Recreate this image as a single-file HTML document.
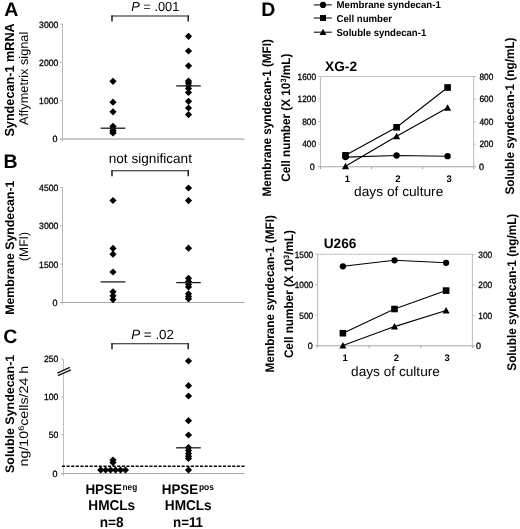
<!DOCTYPE html>
<html><head><meta charset="utf-8"><title>Figure</title>
<style>
html,body{margin:0;padding:0;background:#fff;}
svg{display:block;font-family:"Liberation Sans",sans-serif;text-rendering:geometricPrecision;will-change:transform;}
</style></head><body>
<svg width="520" height="529" viewBox="0 0 520 529">
<rect width="520" height="529" fill="#fff"/>
<path d="M62.5 24V141.6" fill="none" stroke="#bababa" stroke-width="1"/>
<path d="M60.0 139.1H244.5" fill="none" stroke="#c2c2c2" stroke-width="1.6"/>
<path d="M60.0 24.1H62.5" stroke="#bababa" stroke-width="1"/>
<path d="M60.0 62.4H62.5" stroke="#bababa" stroke-width="1"/>
<path d="M60.0 100.7H62.5" stroke="#bababa" stroke-width="1"/>
<text x="58.3" y="27.5" font-size="9.2" font-weight="normal" text-anchor="end" fill="#000" textLength="19.2" lengthAdjust="spacingAndGlyphs" style="stroke:#000;stroke-width:0.3">3000</text>
<text x="58.3" y="65.8" font-size="9.2" font-weight="normal" text-anchor="end" fill="#000" textLength="19.2" lengthAdjust="spacingAndGlyphs" style="stroke:#000;stroke-width:0.3">2000</text>
<text x="58.3" y="104.10000000000001" font-size="9.2" font-weight="normal" text-anchor="end" fill="#000" textLength="19.2" lengthAdjust="spacingAndGlyphs" style="stroke:#000;stroke-width:0.3">1000</text>
<text x="57.4" y="142.4" font-size="9.2" font-weight="normal" text-anchor="end" fill="#000" textLength="5.0" lengthAdjust="spacingAndGlyphs" style="stroke:#000;stroke-width:0.3">0</text>
<path d="M113 77.7L116.6 81.3L113 84.89999999999999L109.4 81.3Z" fill="#000"/>
<path d="M113 98.60000000000001L116.6 102.2L113 105.8L109.4 102.2Z" fill="#000"/>
<path d="M113 108.2L116.6 111.8L113 115.39999999999999L109.4 111.8Z" fill="#000"/>
<path d="M113 122.7L116.6 126.3L113 129.9L109.4 126.3Z" fill="#000"/>
<path d="M113 124.9L116.6 128.5L113 132.1L109.4 128.5Z" fill="#000"/>
<path d="M113 126.9L116.6 130.5L113 134.1L109.4 130.5Z" fill="#000"/>
<path d="M113 128.4L116.6 132L113 135.6L109.4 132Z" fill="#000"/>
<path d="M113 129.4L116.6 133L113 136.6L109.4 133Z" fill="#000"/>
<path d="M100.7 128.2H125.3" stroke="#1c1c1c" stroke-width="1.3"/>
<path d="M188.5 32.699999999999996L192.1 36.3L188.5 39.9L184.9 36.3Z" fill="#000"/>
<path d="M188.5 47.4L192.1 51L188.5 54.6L184.9 51Z" fill="#000"/>
<path d="M188.5 62.199999999999996L192.1 65.8L188.5 69.39999999999999L184.9 65.8Z" fill="#000"/>
<path d="M188.5 77.4L192.1 81L188.5 84.6L184.9 81Z" fill="#000"/>
<path d="M188.5 79.4L192.1 83L188.5 86.6L184.9 83Z" fill="#000"/>
<path d="M188.5 81.9L192.1 85.5L188.5 89.1L184.9 85.5Z" fill="#000"/>
<path d="M188.5 84.9L192.1 88.5L188.5 92.1L184.9 88.5Z" fill="#000"/>
<path d="M188.5 88.9L192.1 92.5L188.5 96.1L184.9 92.5Z" fill="#000"/>
<path d="M188.5 97.7L192.1 101.3L188.5 104.89999999999999L184.9 101.3Z" fill="#000"/>
<path d="M188.5 104.4L192.1 108L188.5 111.6L184.9 108Z" fill="#000"/>
<path d="M188.5 111.0L192.1 114.6L188.5 118.19999999999999L184.9 114.6Z" fill="#000"/>
<path d="M176.2 85.9H200.8" stroke="#1c1c1c" stroke-width="1.3"/>
<path d="M111.3 16.0H188.9" fill="none" stroke="#1a1a1a" stroke-width="1.15"/>
<path d="M112 15.5V21.6M188.2 15.5V21.6" fill="none" stroke="#1a1a1a" stroke-width="1.45"/>
<text x="131.2" y="11.3" font-size="13" textLength="48.2" lengthAdjust="spacingAndGlyphs"><tspan font-style="italic">P</tspan> = .001</text>
<text x="4.2" y="15.8" font-size="19.5" font-weight="bold" text-anchor="start" fill="#000">A</text>
<text x="14.0" y="136.6" font-size="13.2" font-weight="bold" text-anchor="start" fill="#000" textLength="113.3" lengthAdjust="spacingAndGlyphs" transform="rotate(-90 14.0 136.6)">Syndecan-1 mRNA</text>
<text x="28.4" y="125" font-size="12.5" font-weight="normal" text-anchor="start" fill="#000" textLength="93.3" lengthAdjust="spacingAndGlyphs" transform="rotate(-90 28.4 125)">Affymetrix signal</text>
<path d="M62.5 187.5V304.5" fill="none" stroke="#bababa" stroke-width="1"/>
<path d="M60.0 302.5H244.5" fill="none" stroke="#a8a8a8" stroke-width="1.0"/>
<path d="M60.0 187.5H62.5" stroke="#bababa" stroke-width="1"/>
<path d="M60.0 225.8H62.5" stroke="#bababa" stroke-width="1"/>
<path d="M60.0 264.1H62.5" stroke="#bababa" stroke-width="1"/>
<text x="58.3" y="190.9" font-size="9.2" font-weight="normal" text-anchor="end" fill="#000" textLength="19.2" lengthAdjust="spacingAndGlyphs" style="stroke:#000;stroke-width:0.3">4500</text>
<text x="58.3" y="229.20000000000002" font-size="9.2" font-weight="normal" text-anchor="end" fill="#000" textLength="19.2" lengthAdjust="spacingAndGlyphs" style="stroke:#000;stroke-width:0.3">3000</text>
<text x="58.3" y="267.5" font-size="9.2" font-weight="normal" text-anchor="end" fill="#000" textLength="19.2" lengthAdjust="spacingAndGlyphs" style="stroke:#000;stroke-width:0.3">1500</text>
<text x="57.4" y="305.9" font-size="9.2" font-weight="normal" text-anchor="end" fill="#000" textLength="5.0" lengthAdjust="spacingAndGlyphs" style="stroke:#000;stroke-width:0.3">0</text>
<path d="M113 196.9L116.6 200.5L113 204.1L109.4 200.5Z" fill="#000"/>
<path d="M113 244.8L116.6 248.4L113 252.0L109.4 248.4Z" fill="#000"/>
<path d="M113 250.6L116.6 254.2L113 257.8L109.4 254.2Z" fill="#000"/>
<path d="M113 268.4L116.6 272L113 275.6L109.4 272Z" fill="#000"/>
<path d="M113 288.2L116.6 291.8L113 295.40000000000003L109.4 291.8Z" fill="#000"/>
<path d="M113 292.2L116.6 295.8L113 299.40000000000003L109.4 295.8Z" fill="#000"/>
<path d="M113 296.0L116.6 299.6L113 303.20000000000005L109.4 299.6Z" fill="#000"/>
<path d="M100.7 281.9H125.3" stroke="#1c1c1c" stroke-width="1.3"/>
<path d="M188.5 184.4L192.1 188L188.5 191.6L184.9 188Z" fill="#000"/>
<path d="M188.5 197.0L192.1 200.6L188.5 204.2L184.9 200.6Z" fill="#000"/>
<path d="M188.5 244.6L192.1 248.2L188.5 251.79999999999998L184.9 248.2Z" fill="#000"/>
<path d="M188.5 274.7L192.1 278.3L188.5 281.90000000000003L184.9 278.3Z" fill="#000"/>
<path d="M188.5 277.9L192.1 281.5L188.5 285.1L184.9 281.5Z" fill="#000"/>
<path d="M188.5 280.9L192.1 284.5L188.5 288.1L184.9 284.5Z" fill="#000"/>
<path d="M188.5 283.4L192.1 287L188.5 290.6L184.9 287Z" fill="#000"/>
<path d="M188.5 290.2L192.1 293.8L188.5 297.40000000000003L184.9 293.8Z" fill="#000"/>
<path d="M188.5 292.9L192.1 296.5L188.5 300.1L184.9 296.5Z" fill="#000"/>
<path d="M188.5 295.2L192.1 298.8L188.5 302.40000000000003L184.9 298.8Z" fill="#000"/>
<path d="M176.2 282.6H200.8" stroke="#1c1c1c" stroke-width="1.3"/>
<path d="M111.3 170.7H188.9" fill="none" stroke="#1a1a1a" stroke-width="1.15"/>
<path d="M112 170.2V176.3M188.2 170.2V176.3" fill="none" stroke="#1a1a1a" stroke-width="1.45"/>
<text x="108.7" y="163.2" font-size="13.6" font-weight="normal" text-anchor="start" fill="#000" textLength="83.3" lengthAdjust="spacingAndGlyphs">not significant</text>
<text x="3.4" y="168" font-size="19.5" font-weight="bold" text-anchor="start" fill="#000">B</text>
<text x="13.8" y="314.8" font-size="12.4" font-weight="bold" text-anchor="start" fill="#000" textLength="134.2" lengthAdjust="spacingAndGlyphs" transform="rotate(-90 13.8 314.8)">Membrane Syndecan-1</text>
<text x="27.8" y="261" font-size="12.5" font-weight="normal" text-anchor="start" fill="#000" textLength="29" lengthAdjust="spacingAndGlyphs" transform="rotate(-90 27.8 261)">(MFI)</text>
<path d="M63.4 359V476.0" fill="none" stroke="#bababa" stroke-width="1"/>
<path d="M60.9 473.5H244.5" fill="none" stroke="#a8a8a8" stroke-width="1.0"/>
<path d="M60.9 359H63.4" stroke="#bababa" stroke-width="1"/>
<path d="M60.9 396.9H63.4" stroke="#bababa" stroke-width="1"/>
<path d="M60.9 434.9H63.4" stroke="#bababa" stroke-width="1"/>
<text x="58.3" y="362.4" font-size="9.2" font-weight="normal" text-anchor="end" fill="#000" textLength="14.4" lengthAdjust="spacingAndGlyphs" style="stroke:#000;stroke-width:0.3">250</text>
<text x="58.3" y="400.29999999999995" font-size="9.2" font-weight="normal" text-anchor="end" fill="#000" textLength="14.4" lengthAdjust="spacingAndGlyphs" style="stroke:#000;stroke-width:0.3">100</text>
<text x="58.3" y="438.29999999999995" font-size="9.2" font-weight="normal" text-anchor="end" fill="#000" textLength="9.6" lengthAdjust="spacingAndGlyphs" style="stroke:#000;stroke-width:0.3">50</text>
<text x="57.4" y="476.7" font-size="9.2" font-weight="normal" text-anchor="end" fill="#000" textLength="5.0" lengthAdjust="spacingAndGlyphs" style="stroke:#000;stroke-width:0.3">0</text>
<path d="M57.3 374.4L70.4 368.6z" stroke="#fff" stroke-width="3.2"/>
<path d="M57.3 373.1L69.8 367.4M57.9 375.7L70.9 369.8" stroke="#111" stroke-width="1.3"/>
<path d="M113 456.4L116.6 460L113 463.6L109.4 460Z" fill="#000"/>
<path d="M113 459.0L116.6 462.6L113 466.20000000000005L109.4 462.6Z" fill="#000"/>
<path d="M100.7 466.4L104.3 470L100.7 473.6L97.10000000000001 470Z" fill="#000"/>
<path d="M105.65 466.4L109.25 470L105.65 473.6L102.05000000000001 470Z" fill="#000"/>
<path d="M110.60000000000001 466.4L114.2 470L110.60000000000001 473.6L107.00000000000001 470Z" fill="#000"/>
<path d="M115.55000000000001 466.4L119.15 470L115.55000000000001 473.6L111.95000000000002 470Z" fill="#000"/>
<path d="M120.5 466.4L124.1 470L120.5 473.6L116.9 470Z" fill="#000"/>
<path d="M125.45 466.4L129.05 470L125.45 473.6L121.85000000000001 470Z" fill="#000"/>
<path d="M188.5 357.4L192.1 361L188.5 364.6L184.9 361Z" fill="#000"/>
<path d="M188.5 382.09999999999997L192.1 385.7L188.5 389.3L184.9 385.7Z" fill="#000"/>
<path d="M188.5 392.4L192.1 396L188.5 399.6L184.9 396Z" fill="#000"/>
<path d="M188.5 417.09999999999997L192.1 420.7L188.5 424.3L184.9 420.7Z" fill="#000"/>
<path d="M188.5 431.4L192.1 435L188.5 438.6L184.9 435Z" fill="#000"/>
<path d="M188.5 443.9L192.1 447.5L188.5 451.1L184.9 447.5Z" fill="#000"/>
<path d="M188.5 446.9L192.1 450.5L188.5 454.1L184.9 450.5Z" fill="#000"/>
<path d="M188.5 449.9L192.1 453.5L188.5 457.1L184.9 453.5Z" fill="#000"/>
<path d="M188.5 452.7L192.1 456.3L188.5 459.90000000000003L184.9 456.3Z" fill="#000"/>
<path d="M188.5 454.9L192.1 458.5L188.5 462.1L184.9 458.5Z" fill="#000"/>
<path d="M188.5 466.4L192.1 470L188.5 473.6L184.9 470Z" fill="#000"/>
<path d="M176.2 447.8H200.8" stroke="#1c1c1c" stroke-width="1.3"/>
<path d="M62 466.3H246" stroke="#000" stroke-width="1.5" stroke-dasharray="3.1 1.5"/>
<path d="M111.3 343.7H188.9" fill="none" stroke="#1a1a1a" stroke-width="1.15"/>
<path d="M112 343.2V349.3M188.2 343.2V349.3" fill="none" stroke="#1a1a1a" stroke-width="1.45"/>
<text x="131.2" y="338.7" font-size="13.3" textLength="42.8" lengthAdjust="spacingAndGlyphs"><tspan font-style="italic">P</tspan> = .02</text>
<text x="3.3" y="342.8" font-size="19.5" font-weight="bold" text-anchor="start" fill="#000">C</text>
<text x="13.8" y="473" font-size="12.4" font-weight="bold" text-anchor="start" fill="#000" textLength="118.2" lengthAdjust="spacingAndGlyphs" transform="rotate(-90 13.8 473)">Soluble Syndecan-1</text>
<text x="28.2" y="466.4" font-size="12.5" transform="rotate(-90 28.2 466.4)" textLength="100.6" lengthAdjust="spacingAndGlyphs">ng/10<tspan font-size="8" dy="-4.3">6</tspan><tspan dy="4.3">cells/24 h</tspan></text>
<text x="85.4" y="493.9" font-size="13.8" font-weight="bold" text-anchor="start" fill="#000" textLength="36.6" lengthAdjust="spacingAndGlyphs">HPSE</text>
<text x="122.6" y="490.1" font-size="9" font-weight="bold" text-anchor="start" fill="#000" textLength="14.6" lengthAdjust="spacingAndGlyphs">neg</text>
<text x="88.3" y="510" font-size="14.2" font-weight="bold" text-anchor="start" fill="#000" textLength="46.9" lengthAdjust="spacingAndGlyphs">HMCLs</text>
<text x="99.7" y="527" font-size="14.2" font-weight="bold" text-anchor="start" fill="#000" textLength="23.8" lengthAdjust="spacingAndGlyphs">n=8</text>
<text x="161.7" y="493.9" font-size="13.8" font-weight="bold" text-anchor="start" fill="#000" textLength="36.6" lengthAdjust="spacingAndGlyphs">HPSE</text>
<text x="198.9" y="490.1" font-size="9" font-weight="bold" text-anchor="start" fill="#000" textLength="15" lengthAdjust="spacingAndGlyphs">pos</text>
<text x="164.8" y="510" font-size="14.2" font-weight="bold" text-anchor="start" fill="#000" textLength="46.9" lengthAdjust="spacingAndGlyphs">HMCLs</text>
<text x="173" y="527" font-size="14.2" font-weight="bold" text-anchor="start" fill="#000" textLength="30" lengthAdjust="spacingAndGlyphs">n=11</text>
<text x="261.3" y="15.9" font-size="19.5" font-weight="bold" text-anchor="start" fill="#000">D</text>
<path d="M313.8 4.9H331.8" stroke="#000" stroke-width="1"/>
<circle cx="323" cy="4.9" r="3.1" fill="#000"/>
<text x="336.5" y="8.4" font-size="10" font-weight="bold" text-anchor="start" fill="#000" textLength="104.3" lengthAdjust="spacingAndGlyphs">Membrane syndecan-1</text>
<path d="M313.8 18H331.8" stroke="#000" stroke-width="1"/>
<rect x="320.0" y="15.0" width="6.0" height="6.0" fill="#000"/>
<text x="336.5" y="21.5" font-size="10" font-weight="bold" text-anchor="start" fill="#000" textLength="55.6" lengthAdjust="spacingAndGlyphs">Cell number</text>
<path d="M313.8 32.2H331.8" stroke="#000" stroke-width="1"/>
<path d="M323 28.800000000000004L326.4 35.09H319.6Z" fill="#000"/>
<text x="336.5" y="35.7" font-size="10" font-weight="bold" text-anchor="start" fill="#000" textLength="89.7" lengthAdjust="spacingAndGlyphs">Soluble syndecan-1</text>
<path d="M320.5 166.7V76.5H473.6V166.7" fill="none" stroke="#c2c2c2" stroke-width="1.1"/>
<path d="M318.0 166.7H476.1" fill="none" stroke="#a6a6a6" stroke-width="1.1"/>
<path d="M318.0 76.5H320.5" stroke="#c2c2c2" stroke-width="1"/>
<text x="316.1" y="79.8" font-size="9.2" font-weight="normal" text-anchor="end" fill="#000" textLength="18.48" lengthAdjust="spacingAndGlyphs" style="stroke:#000;stroke-width:0.3">1600</text>
<path d="M318.0 99.0H320.5" stroke="#c2c2c2" stroke-width="1"/>
<text x="316.1" y="102.3" font-size="9.2" font-weight="normal" text-anchor="end" fill="#000" textLength="18.48" lengthAdjust="spacingAndGlyphs" style="stroke:#000;stroke-width:0.3">1200</text>
<path d="M318.0 121.6H320.5" stroke="#c2c2c2" stroke-width="1"/>
<text x="316.1" y="124.89999999999999" font-size="9.2" font-weight="normal" text-anchor="end" fill="#000" textLength="13.86" lengthAdjust="spacingAndGlyphs" style="stroke:#000;stroke-width:0.3">800</text>
<path d="M318.0 144.1H320.5" stroke="#c2c2c2" stroke-width="1"/>
<text x="316.1" y="147.4" font-size="9.2" font-weight="normal" text-anchor="end" fill="#000" textLength="13.86" lengthAdjust="spacingAndGlyphs" style="stroke:#000;stroke-width:0.3">400</text>
<text x="314.8" y="170.0" font-size="9.2" font-weight="normal" text-anchor="end" fill="#000" textLength="5.0" lengthAdjust="spacingAndGlyphs" style="stroke:#000;stroke-width:0.3">0</text>
<path d="M473.6 76.5H476.1" stroke="#c2c2c2" stroke-width="1"/>
<text x="479.5" y="79.8" font-size="9.2" font-weight="normal" text-anchor="start" fill="#000" textLength="13.86" lengthAdjust="spacingAndGlyphs" style="stroke:#000;stroke-width:0.3">800</text>
<path d="M473.6 99.0H476.1" stroke="#c2c2c2" stroke-width="1"/>
<text x="479.5" y="102.3" font-size="9.2" font-weight="normal" text-anchor="start" fill="#000" textLength="13.86" lengthAdjust="spacingAndGlyphs" style="stroke:#000;stroke-width:0.3">600</text>
<path d="M473.6 121.6H476.1" stroke="#c2c2c2" stroke-width="1"/>
<text x="479.5" y="124.89999999999999" font-size="9.2" font-weight="normal" text-anchor="start" fill="#000" textLength="13.86" lengthAdjust="spacingAndGlyphs" style="stroke:#000;stroke-width:0.3">400</text>
<path d="M473.6 144.1H476.1" stroke="#c2c2c2" stroke-width="1"/>
<text x="479.5" y="147.4" font-size="9.2" font-weight="normal" text-anchor="start" fill="#000" textLength="13.86" lengthAdjust="spacingAndGlyphs" style="stroke:#000;stroke-width:0.3">200</text>
<text x="479.1" y="170.0" font-size="9.2" font-weight="normal" text-anchor="start" fill="#000" textLength="5.0" lengthAdjust="spacingAndGlyphs" style="stroke:#000;stroke-width:0.3">0</text>
<path d="M320.5 166.7v2.5" stroke="#a6a6a6" stroke-width="1"/>
<path d="M371.53333333333336 166.7v2.5" stroke="#a6a6a6" stroke-width="1"/>
<path d="M422.56666666666666 166.7v2.5" stroke="#a6a6a6" stroke-width="1"/>
<path d="M473.6 166.7v2.5" stroke="#a6a6a6" stroke-width="1"/>
<path d="M345.5 155.3L396.6 127.3L447.6 87.5" fill="none" stroke="#000" stroke-width="1.1"/>
<rect x="342.2" y="152.0" width="6.6" height="6.6" fill="#000"/>
<rect x="393.3" y="124.0" width="6.6" height="6.6" fill="#000"/>
<rect x="444.3" y="84.2" width="6.6" height="6.6" fill="#000"/>
<path d="M345.5 166.2L396.6 136.3L447.6 107.8" fill="none" stroke="#000" stroke-width="1.1"/>
<path d="M345.5 162.64999999999998L349.05 169.2175H341.95Z" fill="#000"/>
<path d="M396.6 132.75L400.15000000000003 139.31750000000002H393.05Z" fill="#000"/>
<path d="M447.6 104.25L451.15000000000003 110.8175H444.05Z" fill="#000"/>
<path d="M345.5 157.1L396.6 155.5L447.6 156.2" fill="none" stroke="#000" stroke-width="1.1"/>
<circle cx="345.5" cy="157.1" r="3.15" fill="#000"/>
<circle cx="396.6" cy="155.5" r="3.15" fill="#000"/>
<circle cx="447.6" cy="156.2" r="3.15" fill="#000"/>
<text x="325.1" y="70.5" font-size="13.7" font-weight="bold" text-anchor="start" fill="#000">XG-2</text>
<text x="347.4" y="182" font-size="9.5" font-weight="bold" text-anchor="middle" fill="#000">1</text>
<text x="397.8" y="182" font-size="9.5" font-weight="bold" text-anchor="middle" fill="#000">2</text>
<text x="449.1" y="182" font-size="9.5" font-weight="bold" text-anchor="middle" fill="#000">3</text>
<text x="354.1" y="196" font-size="13.5" font-weight="normal" text-anchor="start" fill="#000" textLength="89.2" lengthAdjust="spacingAndGlyphs">days of culture</text>
<text x="271.2" y="196.39999999999998" font-size="12.4" font-weight="bold" text-anchor="start" fill="#000" textLength="157.3" lengthAdjust="spacingAndGlyphs" transform="rotate(-90 271.2 196.39999999999998)">Membrane syndecan-1 (MFI)</text>
<text x="290.4" y="181.7" font-size="12.4" font-weight="bold" transform="rotate(-90 290.4 181.7)" textLength="128" lengthAdjust="spacingAndGlyphs">Cell number (X 10<tspan font-size="7.8" dy="-4.2">3</tspan><tspan dy="4.2">/mL)</tspan></text>
<text x="514.3" y="194.5" font-size="12.6" font-weight="bold" text-anchor="start" fill="#000" textLength="157" lengthAdjust="spacingAndGlyphs" transform="rotate(-90 514.3 194.5)">Soluble syndecan-1 (ng/mL)</text>
<path d="M317.6 345.7V254.3H472.4V345.7" fill="none" stroke="#c2c2c2" stroke-width="1.1"/>
<path d="M315.1 345.7H474.9" fill="none" stroke="#a6a6a6" stroke-width="1.1"/>
<path d="M315.1 254.3H317.6" stroke="#c2c2c2" stroke-width="1"/>
<text x="313.20000000000005" y="257.6" font-size="9.2" font-weight="normal" text-anchor="end" fill="#000" textLength="18.48" lengthAdjust="spacingAndGlyphs" style="stroke:#000;stroke-width:0.3">1500</text>
<path d="M315.1 284.7H317.6" stroke="#c2c2c2" stroke-width="1"/>
<text x="313.20000000000005" y="288.0" font-size="9.2" font-weight="normal" text-anchor="end" fill="#000" textLength="18.48" lengthAdjust="spacingAndGlyphs" style="stroke:#000;stroke-width:0.3">1000</text>
<path d="M315.1 315.2H317.6" stroke="#c2c2c2" stroke-width="1"/>
<text x="313.20000000000005" y="318.5" font-size="9.2" font-weight="normal" text-anchor="end" fill="#000" textLength="13.86" lengthAdjust="spacingAndGlyphs" style="stroke:#000;stroke-width:0.3">500</text>
<text x="312.7" y="349.0" font-size="9.2" font-weight="normal" text-anchor="end" fill="#000" textLength="5.0" lengthAdjust="spacingAndGlyphs" style="stroke:#000;stroke-width:0.3">0</text>
<path d="M472.4 254.3H474.9" stroke="#c2c2c2" stroke-width="1"/>
<text x="478.29999999999995" y="257.6" font-size="9.2" font-weight="normal" text-anchor="start" fill="#000" textLength="13.86" lengthAdjust="spacingAndGlyphs" style="stroke:#000;stroke-width:0.3">300</text>
<path d="M472.4 284.7H474.9" stroke="#c2c2c2" stroke-width="1"/>
<text x="478.29999999999995" y="288.0" font-size="9.2" font-weight="normal" text-anchor="start" fill="#000" textLength="13.86" lengthAdjust="spacingAndGlyphs" style="stroke:#000;stroke-width:0.3">200</text>
<path d="M472.4 315.2H474.9" stroke="#c2c2c2" stroke-width="1"/>
<text x="478.29999999999995" y="318.5" font-size="9.2" font-weight="normal" text-anchor="start" fill="#000" textLength="13.86" lengthAdjust="spacingAndGlyphs" style="stroke:#000;stroke-width:0.3">100</text>
<text x="476.1" y="349.0" font-size="9.2" font-weight="normal" text-anchor="start" fill="#000" textLength="5.0" lengthAdjust="spacingAndGlyphs" style="stroke:#000;stroke-width:0.3">0</text>
<path d="M317.6 345.7v2.5" stroke="#a6a6a6" stroke-width="1"/>
<path d="M369.2 345.7v2.5" stroke="#a6a6a6" stroke-width="1"/>
<path d="M420.8 345.7v2.5" stroke="#a6a6a6" stroke-width="1"/>
<path d="M472.4 345.7v2.5" stroke="#a6a6a6" stroke-width="1"/>
<path d="M342.9 333.2L394.5 309L446.1 290.6" fill="none" stroke="#000" stroke-width="1.1"/>
<rect x="339.59999999999997" y="329.9" width="6.6" height="6.6" fill="#000"/>
<rect x="391.2" y="305.7" width="6.6" height="6.6" fill="#000"/>
<rect x="442.8" y="287.3" width="6.6" height="6.6" fill="#000"/>
<path d="M342.9 345.5L394.5 326.6L446.1 310.5" fill="none" stroke="#000" stroke-width="1.1"/>
<path d="M342.9 341.95L346.45 348.5175H339.34999999999997Z" fill="#000"/>
<path d="M394.5 323.05L398.05 329.6175H390.95Z" fill="#000"/>
<path d="M446.1 306.95L449.65000000000003 313.5175H442.55Z" fill="#000"/>
<path d="M342.9 266.3L394.5 260.3L446.1 262.8" fill="none" stroke="#000" stroke-width="1.1"/>
<circle cx="342.9" cy="266.3" r="3.15" fill="#000"/>
<circle cx="394.5" cy="260.3" r="3.15" fill="#000"/>
<circle cx="446.1" cy="262.8" r="3.15" fill="#000"/>
<text x="323.7" y="248.3" font-size="13.7" font-weight="bold" text-anchor="start" fill="#000">U266</text>
<text x="345.2" y="361" font-size="9.5" font-weight="bold" text-anchor="middle" fill="#000">1</text>
<text x="396.4" y="361" font-size="9.5" font-weight="bold" text-anchor="middle" fill="#000">2</text>
<text x="447.2" y="361" font-size="9.5" font-weight="bold" text-anchor="middle" fill="#000">3</text>
<text x="351.1" y="375.7" font-size="13.5" font-weight="normal" text-anchor="start" fill="#000" textLength="88.8" lengthAdjust="spacingAndGlyphs">days of culture</text>
<text x="274.2" y="372.5" font-size="12.4" font-weight="bold" text-anchor="start" fill="#000" textLength="157.3" lengthAdjust="spacingAndGlyphs" transform="rotate(-90 274.2 372.5)">Membrane syndecan-1 (MFI)</text>
<text x="293.3" y="358.09999999999997" font-size="12.4" font-weight="bold" transform="rotate(-90 293.3 358.09999999999997)" textLength="128" lengthAdjust="spacingAndGlyphs">Cell number (X 10<tspan font-size="7.8" dy="-4.2">3</tspan><tspan dy="4.2">/mL)</tspan></text>
<text x="516.2" y="370.7" font-size="12.6" font-weight="bold" text-anchor="start" fill="#000" textLength="157" lengthAdjust="spacingAndGlyphs" transform="rotate(-90 516.2 370.7)">Soluble syndecan-1 (ng/mL)</text>
</svg>
</body></html>
